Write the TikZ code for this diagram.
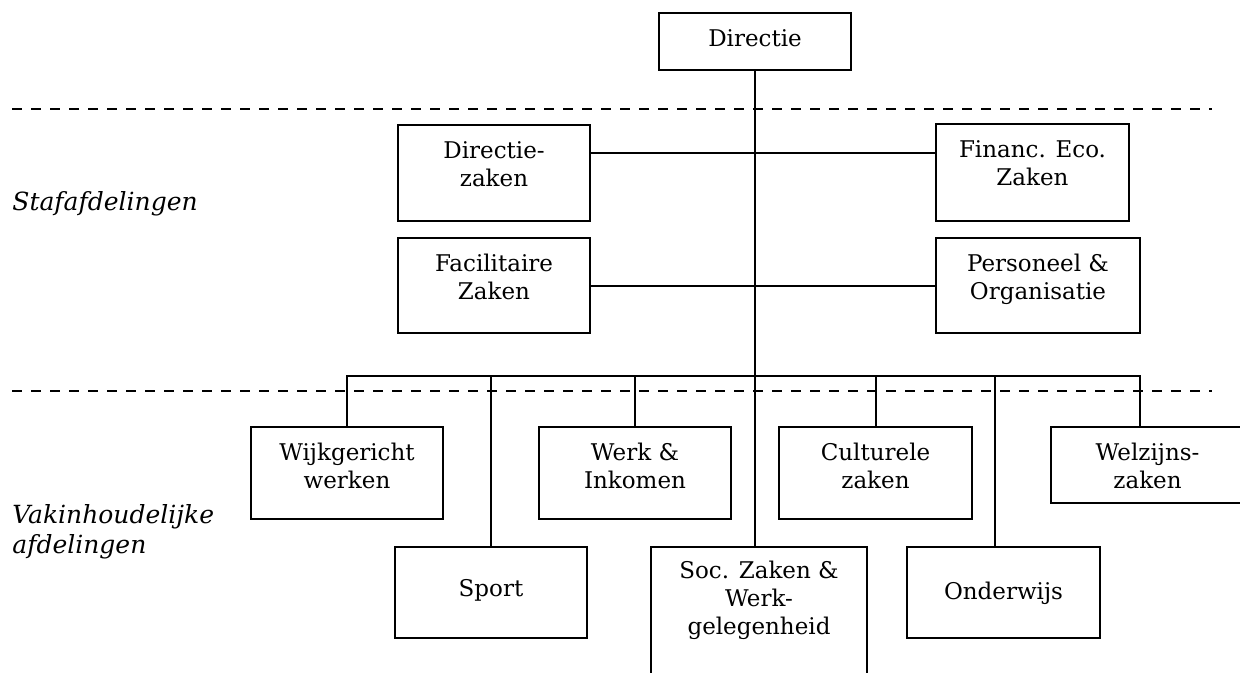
\documentclass[tikz,border=0pt]{standalone}
\usepackage{fontspec}
\setmainfont{DejaVu Serif}
\usetikzlibrary{calc}
\newcommand\bt[4]{\parbox[c][#2][t]{#1}{\centering\rule{0pt}{#3}#4\par}}
\tikzset{
  box/.style={draw, line width=1pt, inner sep=0pt, anchor=north west, font=\fontsize{11.5}{14}\selectfont},
  conn/.style={line width=1pt},
  sep/.style={line width=0.8pt, dash pattern=on 5pt off 4.5pt},
  lab/.style={font=\fontsize{12.5}{15}\selectfont\itshape, inner sep=0pt, align=left}
}
\begin{document}
\begin{tikzpicture}[x=0.5pt,y=-0.5pt]
\clip (0,0) rectangle (1240,673);
\useasboundingbox (0,0) rectangle (1240,673);
% separators
\coordinate (d1a) at (12,109);
\coordinate (d1b) at (1212,109);
\coordinate (d2a) at (12,391);
\coordinate (d2b) at (1212,391);
\draw[sep] (d1a) -- (d1b);
\draw[sep] (d2a) -- (d2b);
% labels
\node[lab, anchor=base west] (staf) at (12,211) {Stafafdelingen};
\node[lab, anchor=base west] (vak) at (12,553) {Vakinhoudelijke\\afdelingen};
% boxes
\node[box] (dir) at (658,12) {\bt{96pt}{28.5pt}{17pt}{Directie}};
\node[box] (dz) at (397,124) {\bt{96pt}{48pt}{17pt}{Directie-\\zaken}};
\node[box] (fac) at (397,237) {\bt{96pt}{47.5pt}{17pt}{Facilitaire\\Zaken}};
\node[box] (fin) at (935,123) {\bt{96.5pt}{48.5pt}{17pt}{Financ. Eco.\\Zaken}};
\node[box] (per) at (935,237) {\bt{102pt}{47.5pt}{17pt}{Personeel \&\\Organisatie}};
\node[box] (wijk) at (250,426) {\bt{96pt}{46pt}{16.5pt}{Wijkgericht\\werken}};
\node[box] (werk) at (538,426) {\bt{96pt}{46pt}{16.5pt}{Werk \&\\Inkomen}};
\node[box] (cult) at (778,426) {\bt{96.5pt}{46pt}{16.5pt}{Culturele\\zaken}};
\node[box] (welz) at (1050,426) {\bt{96.5pt}{38pt}{16.5pt}{Welzijns-\\zaken}};
\node[box] (sport) at (394,546) {\bt{96pt}{45.5pt}{24.5pt}{Sport}};
\node[box] (soc) at (650,546) {\bt{108pt}{80pt}{15.5pt}{Soc. Zaken \&\\Werk-\\gelegenheid}};
\node[box] (ond) at (906,546) {\bt{96.5pt}{45.5pt}{26pt}{Onderwijs}};
% trunk
\draw[conn] (dir.south) -- (dir.south |- soc.north);
% staff connectors
\coordinate (s1) at ([yshift=-14.5pt]dz.north east);
\coordinate (s2) at ([yshift=-24.5pt]fac.north east);
\draw[conn] (s1) -- (s1 -| fin.west);
\draw[conn] (s2) -- (s2 -| per.west);
% bus
\coordinate (busy) at (0,376);
\coordinate (wd) at ([xshift=-4pt]welz.north);
\coordinate (od) at ([xshift=-4.25pt]ond.north);
\draw[conn] (wijk.north) -- (wijk.north |- busy) -- (wd |- busy) -- (wd);
\draw[conn] (sport.north) -- (sport.north |- busy);
\draw[conn] (werk.north) -- (werk.north |- busy);
\draw[conn] (cult.north) -- (cult.north |- busy);
\draw[conn] (od) -- (od |- busy);
\end{tikzpicture}
\end{document}
